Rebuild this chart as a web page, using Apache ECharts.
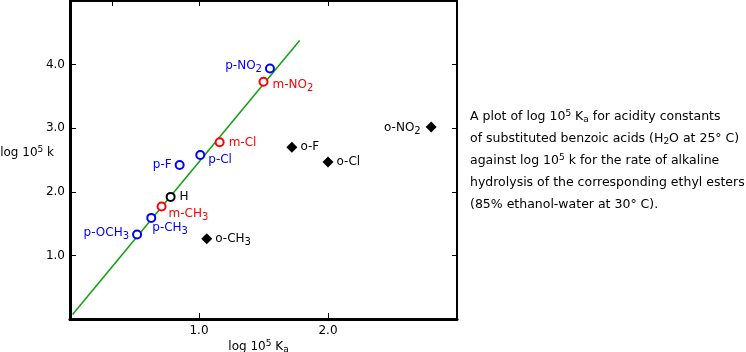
<!DOCTYPE html>
<html>
<head>
    <meta charset="utf-8">
    <title>Hammett plot</title>
    <script src="https://cdn.jsdelivr.net/npm/echarts@6/dist/echarts.min.js"></script>
    <style>
        html, body, #main {
            width: 100%;
            height: 100%;
            margin: 0;
            background: #fff;
        }
    </style>
</head>
<body>
    <div id="main"></div>
    <script type="text/javascript">
        // para substituents (blue open circles)
        var paraNames = ['p-NO2', 'p-Cl', 'p-F', 'p-CH3', 'p-OCH3'];
        var paraX = [1.55, 1.01, 0.85, 0.63, 0.52];
        var paraY = [3.94, 2.58, 2.42, 1.59, 1.33];
        // meta substituents (red open circles)
        var metaNames = ['m-NO2', 'm-Cl', 'm-CH3'];
        var metaX = [1.50, 1.16, 0.71];
        var metaY = [3.73, 2.78, 1.77];
        // unsubstituted
        var parentNames = ['H'];
        var parentX = [0.78];
        var parentY = [1.92];
        // ortho substituents (black diamonds)
        var orthoNames = ['o-NO2', 'o-F', 'o-Cl', 'o-CH3'];
        var orthoX = [2.80, 1.72, 2.00, 1.06];
        var orthoY = [3.02, 2.70, 2.47, 1.26];
        // fitted line
        var fitX = [0.02, 1.78];
        var fitY = [0.07, 4.38];
        var yTicks = [1, 2, 3, 4];
        var xTicks = [1, 2];

        var FONT = 'DejaVu Sans';
        var BLUE = '#0000ff', RED = '#ff0000', BLACK = '#000000';

        // label placement per point
        var place = {
            'p-NO2': ['left', [0, -3]],
            'p-Cl': ['right', [0, 5]],
            'p-F': ['left', [0, 0]],
            'p-CH3': ['right', [-7, 10]],
            'p-OCH3': ['left', [0, -2]],
            'm-NO2': ['right', [1, 3]],
            'm-Cl': ['right', [1, 1]],
            'm-CH3': ['right', [-1, 7]],
            'H': ['right', [1, 0]],
            'o-NO2': ['left', [-2, 1]],
            'o-F': ['right', [0, 0]],
            'o-Cl': ['right', [0, 0]],
            'o-CH3': ['right', [0, 0]]
        };

        function richName(n) {
            return n.replace(/([A-Z])(\d)$/, '$1{s|$2}');
        }

        function pts(names, xs, ys, color) {
            return names.map(function (n, i) {
                var p = place[n];
                return {
                    value: [xs[i], ys[i]],
                    name: n,
                    label: {
                        position: p[0],
                        offset: p[1],
                        color: color,
                        formatter: richName(n),
                        rich: { s: { fontSize: 10, fontFamily: FONT, color: color, padding: [7, 0, 0, 0] } }
                    }
                };
            });
        }

        var lbl = { show: true, fontSize: 12, fontFamily: FONT, distance: 3 };

        var myChart = echarts.init(document.getElementById('main'));
        var option = {
            animation: false,
            title: {
                left: 465,
                top: 101,
                text: 'A plot of log 10{sup|5} K{sub|a} for acidity constants\n' +
                      'of substituted benzoic acids (H{sub|2}O at 25° C)\n' +
                      'against log 10{sup|5} k for the rate of alkaline\n' +
                      'hydrolysis of the corresponding ethyl esters\n' +
                      '(85% ethanol-water at 30° C).',
                textStyle: {
                    fontFamily: FONT, fontSize: 12.5, fontWeight: 'normal', color: '#000', lineHeight: 22,
                    rich: {
                        sup: { fontSize: 9, fontFamily: FONT, lineHeight: 22, padding: [0, 0, 6, 0] },
                        sub: { fontSize: 9, fontFamily: FONT, lineHeight: 22, padding: [5, 0, 0, 0] }
                    }
                }
            },
            grid: { left: 70, top: 1, right: 289, bottom: 33, containLabel: false, outerBoundsMode: 'none' },
            xAxis: [{
                type: 'value', min: 0, max: 3, interval: 1,
                name: 'log 10{sup|5} K{sub|a}',
                nameLocation: 'middle', nameGap: 20, nameMoveOverlap: false,
                nameTextStyle: {
                    fontFamily: FONT, fontSize: 12, color: '#000', padding: [0, 0, 0, -10],
                    rich: {
                        sup: { fontSize: 9, fontFamily: FONT, padding: [0, 0, 6, 0] },
                        sub: { fontSize: 9, fontFamily: FONT, padding: [6, 0, 0, 0] }
                    }
                },
                axisLine: { show: true, onZero: false, lineStyle: { color: '#000', width: 3 } },
                axisTick: { inside: true, length: 6, lineStyle: { color: '#000', width: 1 }, customValues: xTicks },
                axisLabel: {
                    customValues: xTicks, margin: 6, fontFamily: FONT, fontSize: 12, color: '#000',
                    formatter: function (v) { return v.toFixed(1); }
                },
                splitLine: { show: false }
            }, {
                type: 'value', min: 0, max: 3, position: 'top',
                axisLine: { show: true, onZero: false, lineStyle: { color: '#000', width: 2 } },
                axisTick: { inside: true, length: 5, lineStyle: { color: '#000' }, customValues: [0.33, 1, 2] },
                axisLabel: { show: false },
                splitLine: { show: false }
            }],
            yAxis: [{
                type: 'value', min: 0, max: 5, interval: 1,
                name: 'log 10{sup|5} k',
                nameLocation: 'middle', nameRotate: 0, nameGap: 16, nameMoveOverlap: false,
                nameTextStyle: {
                    fontFamily: FONT, fontSize: 12, color: '#000', align: 'right', padding: [0, 0, 14, 0],
                    rich: { sup: { fontSize: 9, fontFamily: FONT, padding: [0, 0, 6, 0] } }
                },
                axisLine: { show: true, onZero: false, lineStyle: { color: '#000', width: 3 } },
                axisTick: { inside: true, length: 6, lineStyle: { color: '#000' }, customValues: yTicks },
                axisLabel: {
                    customValues: yTicks, margin: 5, fontFamily: FONT, fontSize: 12, color: '#000',
                    formatter: function (v) { return v.toFixed(1); }
                },
                splitLine: { show: false }
            }, {
                type: 'value', min: 0, max: 5, position: 'right',
                axisLine: { show: true, onZero: false, lineStyle: { color: '#000', width: 2 } },
                axisTick: { inside: true, length: 5, lineStyle: { color: '#000' }, customValues: yTicks },
                axisLabel: { show: false },
                splitLine: { show: false }
            }],
            series: [{
                type: 'line',
                data: fitX.map(function (x, i) { return [x, fitY[i]]; }),
                symbol: 'none',
                lineStyle: { color: '#11a011', width: 1.5 },
                z: 1
            }, {
                type: 'scatter', symbol: 'circle', symbolSize: 8,
                itemStyle: { color: '#fff', borderColor: BLUE, borderWidth: 2, opacity: 1 },
                label: lbl,
                data: pts(paraNames, paraX, paraY, BLUE), z: 3
            }, {
                type: 'scatter', symbol: 'circle', symbolSize: 8,
                itemStyle: { color: '#fff', borderColor: RED, borderWidth: 2, opacity: 1 },
                label: lbl,
                data: pts(metaNames, metaX, metaY, RED), z: 3
            }, {
                type: 'scatter', symbol: 'circle', symbolSize: 8,
                itemStyle: { color: '#fff', borderColor: BLACK, borderWidth: 2, opacity: 1 },
                label: lbl,
                data: pts(parentNames, parentX, parentY, BLACK), z: 3
            }, {
                type: 'scatter', symbol: 'diamond', symbolSize: 11,
                itemStyle: { color: BLACK, opacity: 1 },
                label: lbl,
                data: pts(orthoNames, orthoX, orthoY, BLACK), z: 3
            }]
        };
        myChart.setOption(option);
        window.onresize = myChart.resize;
    </script>
</body>
</html>
